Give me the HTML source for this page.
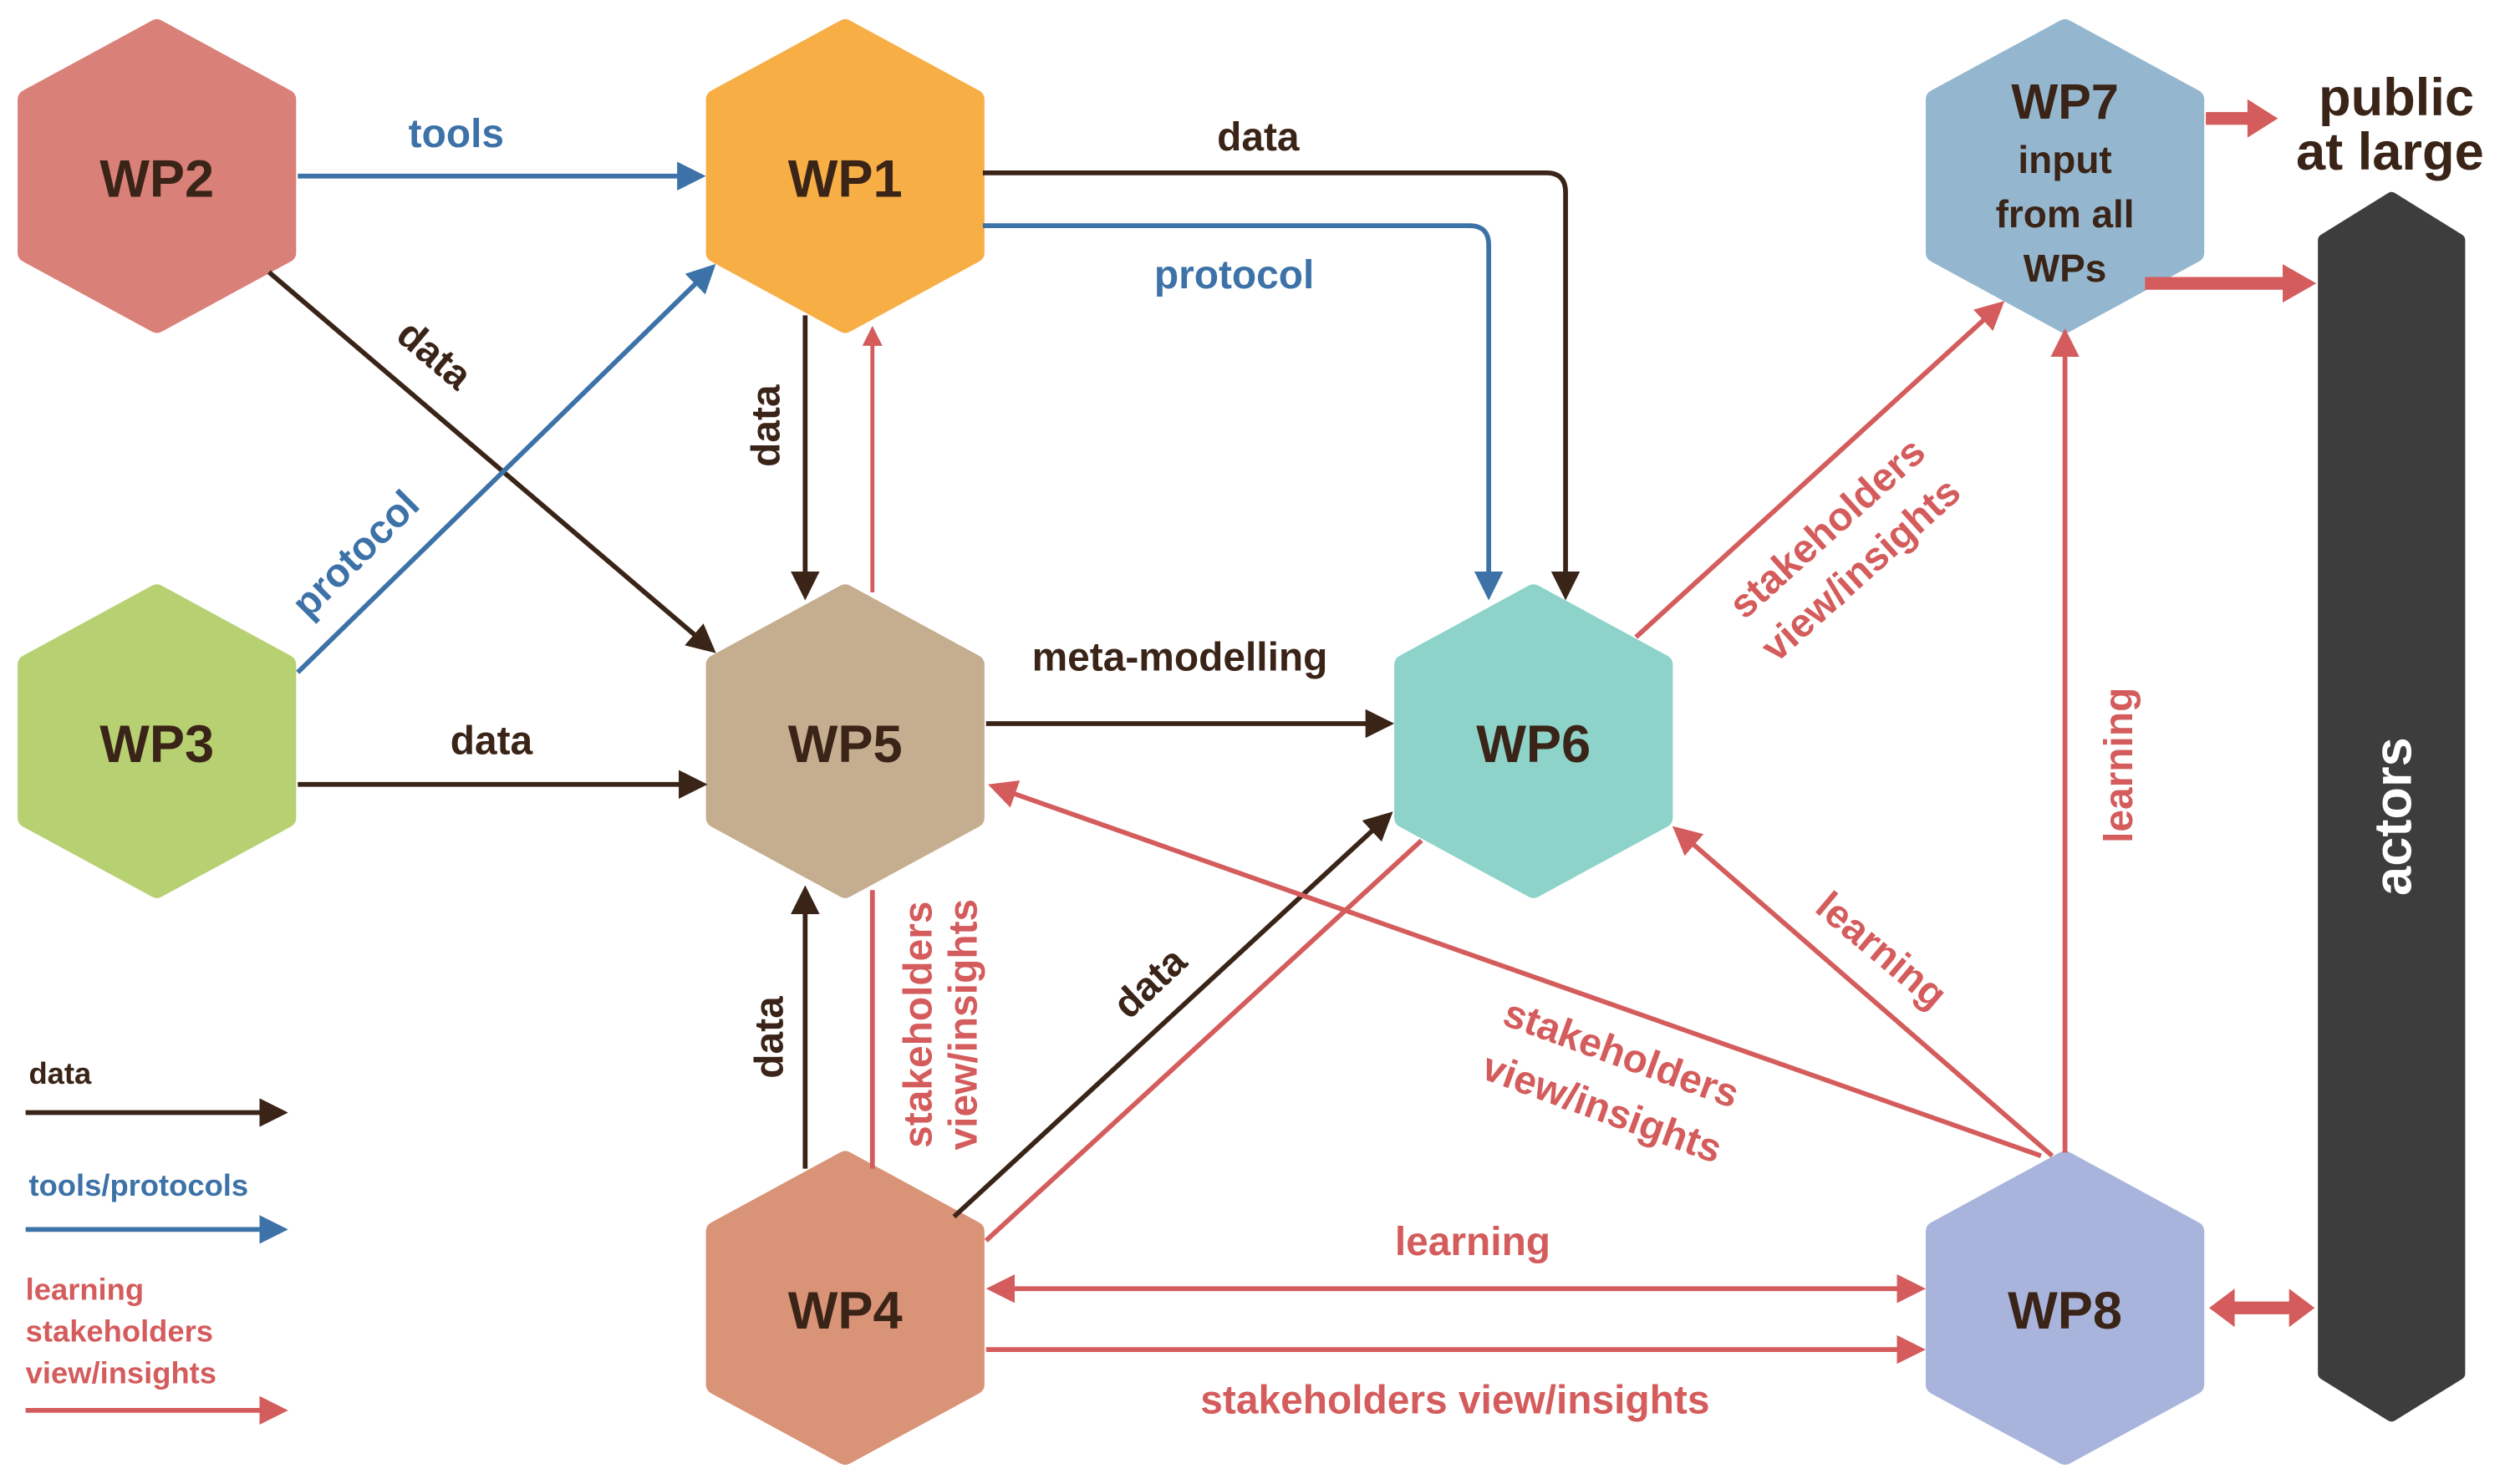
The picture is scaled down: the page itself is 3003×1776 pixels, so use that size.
<!DOCTYPE html>
<html><head><meta charset="utf-8"><style>
html,body{margin:0;padding:0;background:#fff;}
svg{display:block;}
text{font-family:"Liberation Sans",sans-serif;}
</style></head><body>
<svg width="3003" height="1776" viewBox="0 0 1568 927" preserveAspectRatio="none" xmlns="http://www.w3.org/2000/svg">
<defs>
<marker id="ad" markerWidth="6" markerHeight="6" refX="5" refY="3" orient="auto" markerUnits="strokeWidth"><path d="M0,0 L6,3 L0,6 z" fill="#3a2418"/></marker>
<marker id="ab" markerWidth="6" markerHeight="6" refX="5" refY="3" orient="auto" markerUnits="strokeWidth"><path d="M0,0 L6,3 L0,6 z" fill="#3d72a8"/></marker>
<marker id="ar" markerWidth="6" markerHeight="6" refX="5" refY="3" orient="auto-start-reverse" markerUnits="strokeWidth"><path d="M0,0 L6,3 L0,6 z" fill="#d45c5c"/></marker>
<marker id="ars" markerWidth="5" markerHeight="5" refX="4" refY="2.5" orient="auto" markerUnits="strokeWidth"><path d="M0,0 L5,2.5 L0,5 z" fill="#d45c5c"/></marker>
</defs>
<g stroke-linejoin="round" stroke-width="12">
<path d="M98,18 L179,62 L179,158 L98,202 L17,158 L17,62Z" fill="#d98078" stroke="#d98078"/>
<path d="M528,18 L609,62 L609,158 L528,202 L447,158 L447,62Z" fill="#f6ae45" stroke="#f6ae45"/>
<path d="M1290,18 L1371,62 L1371,158 L1290,202 L1209,158 L1209,62Z" fill="#94b7cf" stroke="#94b7cf"/>
<path d="M98,371 L179,415 L179,511 L98,555 L17,511 L17,415Z" fill="#b7d172" stroke="#b7d172"/>
<path d="M528,371 L609,415 L609,511 L528,555 L447,511 L447,415Z" fill="#c4ae8f" stroke="#c4ae8f"/>
<path d="M958,371 L1039,415 L1039,511 L958,555 L877,511 L877,415Z" fill="#8dd3c9" stroke="#8dd3c9"/>
<path d="M528,725 L609,769 L609,865 L528,909 L447,865 L447,769Z" fill="#d99377" stroke="#d99377"/>
<path d="M1290,725 L1371,769 L1371,865 L1290,909 L1209,865 L1209,769Z" fill="#a8b4db" stroke="#a8b4db"/>
<path d="M1494,124 L1536,150 L1536,858 L1494,884 L1452,858 L1452,150Z" fill="#3d3d3d" stroke="#3d3d3d" stroke-width="8"/>
</g>
<g fill="none" stroke-width="3">
<line x1="186" y1="110" x2="438" y2="110" stroke="#3d72a8" marker-end="url(#ab)"/>
<path d="M614,108 L966,108 Q978,108 978,120 L978,372" stroke="#3a2418" marker-end="url(#ad)"/>
<path d="M614,141 L918,141 Q930,141 930,153 L930,372" stroke="#3d72a8" marker-end="url(#ab)"/>
<line x1="168" y1="170" x2="445" y2="406" stroke="#3a2418" marker-end="url(#ad)"/>
<line x1="186" y1="420" x2="445" y2="167" stroke="#3d72a8" marker-end="url(#ab)"/>
<line x1="503" y1="197" x2="503" y2="372" stroke="#3a2418" marker-end="url(#ad)"/>
<line x1="545" y1="370" x2="545" y2="206" stroke="#d45c5c" stroke-width="2.5" marker-end="url(#ars)"/>
<line x1="186" y1="490" x2="439" y2="490" stroke="#3a2418" marker-end="url(#ad)"/>
<line x1="616" y1="452" x2="868" y2="452" stroke="#3a2418" marker-end="url(#ad)"/>
<line x1="503" y1="730" x2="503" y2="556" stroke="#3a2418" marker-end="url(#ad)"/>
<line x1="545" y1="730" x2="545" y2="556" stroke="#d45c5c"/>
<line x1="596" y1="760" x2="868" y2="509" stroke="#3a2418" marker-end="url(#ad)"/>
<line x1="616" y1="775" x2="888" y2="525" stroke="#d45c5c"/>
<line x1="1022" y1="398" x2="1250" y2="190" stroke="#d45c5c" marker-end="url(#ar)"/>
<line x1="1290" y1="720" x2="1290" y2="208" stroke="#d45c5c" marker-end="url(#ar)"/>
<line x1="1282" y1="722" x2="1047" y2="518" stroke="#d45c5c" marker-end="url(#ar)"/>
<line x1="1275" y1="722" x2="620" y2="491" stroke="#d45c5c" marker-end="url(#ar)"/>
<line x1="619" y1="805" x2="1200" y2="805" stroke="#d45c5c" marker-start="url(#ar)" marker-end="url(#ar)"/>
<line x1="616" y1="843" x2="1200" y2="843" stroke="#d45c5c" marker-end="url(#ar)"/>
<line x1="16" y1="695" x2="177" y2="695" stroke="#3a2418" marker-end="url(#ad)"/>
<line x1="16" y1="768" x2="177" y2="768" stroke="#3d72a8" marker-end="url(#ab)"/>
<line x1="16" y1="881" x2="177" y2="881" stroke="#d45c5c" marker-end="url(#ar)"/>
</g>
<g fill="#d45c5c">
<path d="M1380,817 L1396,805 L1396,813 L1430,813 L1430,805 L1446,817 L1430,829 L1430,821 L1396,821 L1396,829Z"/>
<path d="M1378,70 L1404,70 L1404,62 L1423,74 L1404,86 L1404,78 L1378,78Z"/>
<path d="M1340,173 L1426,173 L1426,165 L1447,177 L1426,189 L1426,181 L1340,181Z"/>
</g>
<g font-weight="bold" font-size="33" fill="#3a2418" text-anchor="middle">
<text x="98" y="123">WP2</text>
<text x="528" y="123">WP1</text>
<text x="98" y="476">WP3</text>
<text x="528" y="476">WP5</text>
<text x="958" y="476">WP6</text>
<text x="528" y="830">WP4</text>
<text x="1290" y="830">WP8</text>
<text x="1290" y="74" font-size="31">WP7</text>
<text x="1290" y="108" font-size="24">input</text>
<text x="1290" y="142" font-size="24">from all</text>
<text x="1290" y="176" font-size="24">WPs</text>
<text x="1497" y="72" font-size="33">public</text>
<text x="1493" y="106" font-size="33">at large</text>
<text transform="translate(1506,510) rotate(-90)" font-size="33" fill="#fff">actors</text>
</g>
<g font-size="25" font-weight="bold" text-anchor="middle">
<text x="285" y="92" fill="#3d72a8">tools</text>
<text x="786" y="94" fill="#3a2418">data</text>
<text x="771" y="180" fill="#3d72a8">protocol</text>
<text transform="translate(266,228) rotate(40)" fill="#3a2418">data</text>
<text transform="translate(228,352) rotate(-45)" fill="#3d72a8">protocol</text>
<text transform="translate(487,266) rotate(-90)" fill="#3a2418">data</text>
<text x="307" y="471" fill="#3a2418">data</text>
<text x="737" y="419" fill="#3a2418">meta-modelling</text>
<text transform="translate(489,648) rotate(-90)" fill="#3a2418">data</text>
<text transform="translate(582,640) rotate(-90)" fill="#d45c5c">stakeholders</text>
<text transform="translate(610,640) rotate(-90)" fill="#d45c5c">view/insights</text>
<text transform="translate(724,620) rotate(-43)" fill="#3a2418">data</text>
<text transform="translate(1147,336) rotate(-42)" fill="#d45c5c">stakeholders</text>
<text transform="translate(1168,362) rotate(-42)" fill="#d45c5c">view/insights</text>
<text transform="translate(1332,478) rotate(-90)" fill="#d45c5c">learning</text>
<text transform="translate(1170,600) rotate(40)" fill="#d45c5c">learning</text>
<text transform="translate(1010,666) rotate(20)" fill="#d45c5c">stakeholders</text>
<text transform="translate(998,700) rotate(20)" fill="#d45c5c">view/insights</text>
<text x="920" y="784" fill="#d45c5c">learning</text>
<text x="909" y="883" fill="#d45c5c">stakeholders view/insights</text>
</g>
<g font-size="19" font-weight="bold">
<text x="18" y="677" fill="#3a2418">data</text>
<text x="18" y="747" fill="#3d72a8">tools/protocols</text>
<text x="16" y="812" fill="#d45c5c">learning</text>
<text x="16" y="838" fill="#d45c5c">stakeholders</text>
<text x="16" y="864" fill="#d45c5c">view/insights</text>
</g>
</svg>
</body></html>
